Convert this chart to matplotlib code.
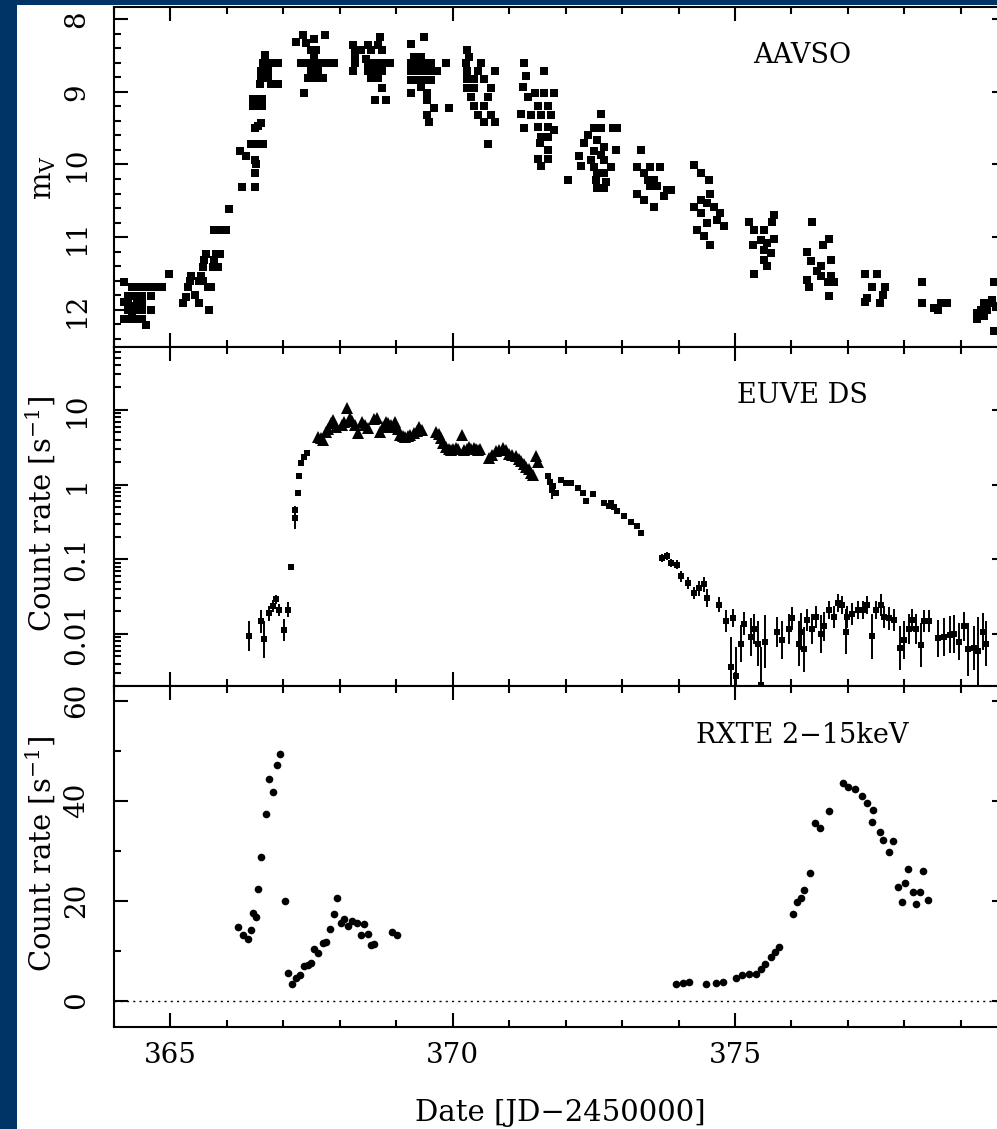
import numpy as np
import matplotlib
matplotlib.use("Agg")
import matplotlib.pyplot as plt
from matplotlib.patches import Rectangle
from matplotlib.ticker import MultipleLocator, LogLocator, FixedLocator, FixedFormatter, NullFormatter

plt.rcParams['font.family'] = ['DejaVu Serif', 'DejaVu Sans']
plt.rcParams['mathtext.fontset'] = 'custom'
plt.rcParams['mathtext.rm'] = 'DejaVu Serif'
plt.rcParams['mathtext.it'] = 'DejaVu Serif'

# ---------------- data ----------------
aavso_day = [
    364.18, 364.18, 364.18, 364.25, 364.25, 364.25, 364.25,
    364.32, 364.32, 364.32, 364.32, 364.32, 364.40, 364.40, 364.40, 364.40, 364.40,
    364.50, 364.50, 364.50, 364.50, 364.50, 364.56, 364.56, 364.65, 364.65, 364.65,
    364.75, 364.85, 364.98,
    365.22, 365.28, 365.31, 365.34, 365.37, 365.43, 365.51, 365.51, 365.54, 365.57,
    365.60, 365.63, 365.66, 365.69, 365.72, 365.75, 365.78, 365.81, 365.84, 365.87, 365.57,
    365.78, 365.85, 365.92, 365.98, 366.04, 366.27, 366.49,
    366.24, 366.33, 366.43, 366.50, 366.57, 366.64, 366.49, 366.52, 366.49,
    366.49, 366.61, 366.55, 366.46, 366.55, 366.62, 366.46, 366.55, 366.62,
    366.67, 366.64, 366.78, 366.90, 366.61, 366.72, 366.61, 366.72, 366.58, 366.78, 366.90,
    367.22, 367.34, 367.40, 367.55, 367.73, 367.49, 367.58, 367.31, 367.43, 367.55,
    367.67, 367.79, 367.90, 367.55, 367.61, 367.43, 367.58, 367.70, 367.37, 367.49,
    368.23, 368.26, 368.26, 368.26, 368.23, 368.50, 368.56, 368.71, 368.68, 368.74,
    368.50, 368.62, 368.74, 368.88, 368.50, 368.62, 368.74, 368.56, 368.68, 368.74,
    368.62, 368.82, 368.47, 368.38,
    369.26, 369.49, 369.31, 369.43, 369.26, 369.37, 369.49, 369.61, 369.88, 369.26,
    369.37, 369.49, 369.61, 369.73, 369.26, 369.37, 369.49, 369.61, 369.26, 369.43,
    369.55, 369.55, 369.67, 369.55, 369.58, 369.94,
    370.26, 370.29, 370.23, 370.50, 370.26, 370.44, 370.74, 370.26, 370.38, 370.56,
    370.26, 370.38, 370.68, 370.32, 370.62, 370.38, 370.56, 370.44, 370.68, 370.56,
    370.74, 370.62,
    371.27, 371.30, 371.24, 371.33, 371.62, 371.45, 371.62, 371.80, 371.51, 371.68,
    371.21, 371.39, 371.57, 371.74, 371.27, 371.51, 371.68, 371.80, 371.57, 371.68,
    371.54, 371.68, 371.51, 371.68, 371.57, 372.04,
    372.62, 372.51, 372.62, 372.39, 372.56, 372.33, 372.68, 372.51, 372.62, 372.24,
    372.45, 372.68, 372.27, 372.51, 372.56, 372.68, 372.54, 372.71, 372.56, 372.68,
    372.80, 372.83, 372.91, 372.90,
    373.33, 373.27, 373.39, 373.50, 373.68, 373.56, 373.62, 373.80, 373.86, 373.27,
    373.39, 373.56, 373.50, 373.74, 373.45,
    374.27, 374.39, 374.54, 374.56, 374.27, 374.39, 374.51, 374.62, 374.74, 374.68,
    374.80, 374.33, 374.51, 374.45, 374.56, 374.39,
    375.25, 375.34, 375.52, 375.69, 375.66, 375.31, 375.46, 375.57, 375.69, 375.52,
    375.63, 375.52, 375.57, 375.34,
    376.37, 376.67, 376.55, 376.28, 376.34, 376.70, 376.52, 376.28, 376.52, 376.70,
    376.76, 376.64, 376.31, 376.67, 376.46,
    377.31, 377.51, 377.43, 377.66, 377.31, 377.34, 377.63, 377.57,
    378.32, 378.32, 378.53, 378.65, 378.76, 378.59,
    379.29, 379.35, 379.41, 379.47, 379.53, 379.59, 379.62, 379.29, 379.41, 379.59, 379.56,
]
aavso_mag = [
    11.61, 11.89, 12.12, 11.81, 11.89, 12.00, 12.12,
    11.69, 11.81, 11.95, 12.05, 12.12, 11.69, 11.81, 11.89, 12.00, 12.12,
    11.69, 11.81, 11.89, 12.00, 12.12, 11.69, 12.21, 11.69, 11.81, 12.00,
    11.69, 11.69, 11.50,
    11.91, 11.82, 11.69, 11.60, 11.53, 11.80, 11.91, 11.60, 11.53, 11.41,
    11.32, 11.23, 11.69, 12.00, 11.69, 11.41, 11.32, 11.23, 11.41, 11.23, 11.60,
    10.90, 10.90, 10.90, 10.90, 10.61, 10.31, 10.31,
    9.82, 9.89, 9.72, 9.72, 9.72, 9.72, 9.94, 10.00, 10.12,
    9.50, 9.43, 9.47, 9.10, 9.10, 9.10, 9.20, 9.20, 9.20,
    8.49, 8.60, 8.60, 8.60, 8.72, 8.72, 8.81, 8.81, 8.90, 8.90, 8.90,
    8.31, 8.22, 8.33, 8.28, 8.22, 8.43, 8.43, 8.61, 8.61, 8.61,
    8.61, 8.61, 8.61, 8.52, 8.72, 8.81, 8.81, 8.81, 9.02, 8.72,
    8.36, 8.43, 8.52, 8.61, 8.72, 8.36, 8.43, 8.25, 8.36, 8.43,
    8.61, 8.61, 8.61, 8.61, 8.72, 8.72, 8.72, 8.81, 8.81, 8.95,
    9.11, 9.11, 8.55, 8.43,
    8.34, 8.25, 8.52, 8.52, 8.61, 8.61, 8.61, 8.61, 8.61, 8.72,
    8.72, 8.72, 8.72, 8.72, 8.84, 8.84, 8.84, 8.84, 9.02, 8.93,
    9.02, 9.11, 9.23, 9.32, 9.41, 9.22,
    8.43, 8.52, 8.61, 8.61, 8.72, 8.72, 8.72, 8.82, 8.82, 8.82,
    8.95, 8.95, 8.95, 9.07, 9.07, 9.20, 9.20, 9.32, 9.32, 9.41,
    9.41, 9.72,
    8.61, 8.79, 8.93, 9.07, 8.72, 9.02, 9.02, 9.02, 9.20, 9.20,
    9.30, 9.32, 9.32, 9.32, 9.50, 9.48, 9.48, 9.53, 9.62, 9.62,
    9.71, 9.80, 9.92, 9.92, 10.02, 10.21,
    9.30, 9.50, 9.50, 9.60, 9.66, 9.71, 9.76, 9.82, 9.87, 9.89,
    9.94, 9.94, 10.02, 10.03, 10.12, 10.12, 10.21, 10.24, 10.33, 10.33,
    10.03, 9.50, 9.50, 9.80,
    9.80, 10.03, 10.12, 10.03, 10.03, 10.21, 10.30, 10.35, 10.35, 10.40,
    10.49, 10.58, 10.30, 10.44, 10.21,
    10.01, 10.12, 10.21, 10.40, 10.58, 10.67, 10.53, 10.58, 10.67, 10.76,
    10.85, 10.90, 10.81, 10.99, 11.11, 10.49,
    10.79, 10.90, 10.90, 10.69, 10.79, 11.11, 11.04, 11.08, 11.02, 11.18,
    11.22, 11.31, 11.40, 11.51,
    10.79, 11.02, 11.11, 11.20, 11.33, 11.31, 11.40, 11.59, 11.54, 11.54,
    11.61, 11.61, 11.68, 11.81, 11.47,
    11.51, 11.51, 11.68, 11.69, 11.89, 11.84, 11.80, 11.91,
    11.62, 11.91, 11.98, 11.91, 11.91, 12.00,
    12.13, 12.00, 11.91, 12.00, 11.91, 11.62, 11.95, 12.04, 12.09, 12.29, 11.87,
]

# EUVE: peak triangles
euve_tri_day = [
    367.62, 367.66, 367.70, 367.75, 367.79, 367.84, 367.88, 367.94, 368.03, 368.07,
    368.12, 368.18, 368.22, 368.27, 368.33, 368.39, 368.45, 368.50, 368.60, 368.66,
    368.72, 368.77, 368.81, 368.85, 368.90, 368.94, 368.98, 369.03, 369.07, 369.12,
    369.16, 369.20, 369.25, 369.31, 369.36, 369.40, 369.46, 369.70, 369.75, 369.79,
    369.83, 369.88, 369.93, 369.97, 370.00, 370.06, 370.10, 370.17, 370.20, 370.25,
    370.29, 370.33, 370.38, 370.41, 370.44, 370.48, 370.65, 370.70, 370.77, 370.82,
    370.89, 370.95, 371.00, 371.05, 371.12, 371.17, 371.21, 371.26, 371.30, 371.35,
    371.39, 371.43, 371.48, 371.51,
]
euve_tri_rate = [
    4.4, 4.2, 4.0, 5.0, 5.6, 6.6, 7.3, 6.0, 6.3, 7.0,
    10.5, 7.7, 7.2, 6.3, 4.9, 6.9, 6.3, 5.8, 7.5, 7.8,
    5.1, 6.0, 6.9, 6.6, 6.3, 6.0, 6.9, 5.5, 4.6, 4.5,
    4.4, 4.5, 4.6, 4.9, 5.3, 5.9, 5.4, 5.1, 4.8, 4.2,
    3.6, 3.2, 3.0, 2.95, 3.0, 3.1, 3.0, 4.6, 2.95, 3.0,
    3.2, 3.0, 3.1, 3.0, 2.95, 3.0, 2.3, 2.5, 2.8, 2.9,
    3.1, 2.9, 2.6, 2.5, 2.4, 2.2, 2.1, 1.9, 1.74, 1.6,
    1.41, 1.35, 2.4, 2.04,
]

# EUVE: points with error bars (error in dex)
euve_day = [
    366.40, 366.60, 366.66, 366.75, 366.81, 366.87, 366.93, 367.02, 367.08, 367.14,
    367.20, 367.21, 367.26, 367.27, 367.31, 367.37, 367.42,
    371.68, 371.72, 371.75, 371.77, 371.83, 371.92, 372.00, 372.09, 372.21, 372.30,
    372.36, 372.48, 372.68, 372.77, 372.80, 372.86, 372.91, 373.03, 373.15, 373.27, 373.33,
    373.71, 373.80, 373.86, 373.98, 374.04, 374.16, 374.27, 374.36, 374.45, 374.51,
    374.72, 374.84, 374.96, 374.93, 375.02, 375.10, 375.16, 375.28, 375.34, 375.40,
    375.46, 375.54, 375.75, 375.84, 375.96, 376.01, 376.13, 376.16, 376.22, 376.28,
    376.37, 376.43, 376.52, 376.58, 376.67, 376.76, 376.82, 376.90, 376.96, 376.99,
    377.08, 377.17, 377.26, 377.34, 377.43, 377.49, 377.58, 377.64, 377.73, 377.82,
    377.93, 377.99, 378.08, 378.14, 378.20, 378.29, 378.35, 378.44, 378.59, 378.71,
    378.80, 378.88, 378.97, 379.06, 379.12, 379.24, 379.30, 379.39, 379.45,
]
euve_rate = [
    0.0094, 0.0147, 0.0085, 0.019, 0.0235, 0.029, 0.021, 0.0112, 0.021, 0.08,
    0.355, 0.46, 0.77, 1.29, 1.93, 2.37, 2.63,
    1.29, 1.1, 0.85, 0.95, 0.78, 1.17, 1.05, 1.05, 0.91, 0.78,
    0.60, 0.74, 0.56, 0.52, 0.575, 0.50, 0.44, 0.38, 0.32, 0.275, 0.224,
    0.104, 0.11, 0.089, 0.085, 0.059, 0.048, 0.035, 0.041, 0.046, 0.030,
    0.0245, 0.0148, 0.0162, 0.0036, 0.0027, 0.0074, 0.0138, 0.0091, 0.0117, 0.0074,
    0.0021, 0.0079, 0.0107, 0.0083, 0.0117, 0.0162, 0.0074, 0.0107, 0.0062, 0.0155,
    0.0117, 0.017, 0.010, 0.0126, 0.0209, 0.017, 0.0257, 0.0245, 0.0107, 0.017,
    0.0186, 0.0209, 0.0209, 0.0245, 0.0093, 0.0209, 0.0245, 0.017, 0.0162, 0.0155,
    0.0065, 0.0083, 0.0117, 0.0155, 0.0117, 0.0071, 0.0148, 0.0148, 0.0087, 0.0091,
    0.0098, 0.010, 0.0079, 0.0126, 0.0062, 0.0065, 0.0059, 0.0107, 0.0074,
]
euve_err_dex = [
    0.20, 0.15, 0.25, 0.10, 0.08, 0.06, 0.08, 0.15, 0.10, 0.03,
    0.15, 0.05, 0.04, 0.03, 0.02, 0.02, 0.02,
    0.03, 0.10, 0.12, 0.03, 0.03, 0.03, 0.03, 0.03, 0.03, 0.03,
    0.03, 0.03, 0.02, 0.02, 0.02, 0.02, 0.02, 0.02, 0.02, 0.02, 0.02,
    0.05, 0.05, 0.05, 0.06, 0.07, 0.08, 0.08, 0.10, 0.10, 0.12,
    0.10, 0.15, 0.12, 0.40, 0.40, 0.25, 0.15, 0.25, 0.20, 0.30,
    0.50, 0.35, 0.20, 0.25, 0.20, 0.15, 0.30, 0.25, 0.30, 0.15,
    0.20, 0.15, 0.25, 0.20, 0.12, 0.15, 0.12, 0.12, 0.30, 0.15,
    0.15, 0.12, 0.12, 0.12, 0.30, 0.12, 0.15, 0.15, 0.15, 0.15,
    0.30, 0.25, 0.20, 0.15, 0.20, 0.30, 0.15, 0.15, 0.25, 0.25,
    0.25, 0.25, 0.25, 0.20, 0.35, 0.30, 0.45, 0.25, 0.30,
]

rxte_day = [
    366.20, 366.28, 366.37, 366.43, 366.46, 366.52, 366.55, 366.61, 366.69, 366.74,
    366.82, 366.89, 366.94, 367.03, 367.08, 367.15, 367.23, 367.30, 367.36, 367.43,
    367.49, 367.55, 367.61, 367.70, 367.76, 367.82, 367.89, 367.95, 368.02, 368.08,
    368.15, 368.22, 368.30, 368.37, 368.43, 368.50, 368.55, 368.61, 368.93, 369.02,
    373.95, 374.07, 374.19, 374.48, 374.66, 374.78, 375.01, 375.13, 375.25, 375.37,
    375.46, 375.54, 375.63, 375.70, 375.78, 376.03, 376.10, 376.16, 376.23, 376.33,
    376.42, 376.51, 376.66, 376.92, 377.01, 377.13, 377.25, 377.33, 377.45, 377.42,
    377.57, 377.63, 377.80, 377.73, 378.06, 378.33, 377.89, 378.01, 378.15, 378.28,
    377.95, 378.21, 378.41,
]
rxte_rate = [
    14.8, 13.1, 12.4, 14.1, 17.5, 16.8, 22.3, 28.8, 37.3, 44.3,
    41.8, 47.1, 49.3, 20.0, 5.5, 3.3, 4.5, 5.1, 7.0, 7.1,
    7.5, 10.3, 9.6, 11.5, 11.8, 14.3, 17.3, 20.5, 15.6, 16.3,
    14.9, 16.0, 15.5, 13.1, 15.3, 13.4, 11.1, 11.3, 13.7, 13.1,
    3.3, 3.5, 3.8, 3.3, 3.5, 3.7, 4.6, 5.1, 5.4, 5.4,
    6.4, 7.4, 8.8, 9.8, 10.8, 17.3, 19.8, 20.5, 22.1, 25.5,
    35.5, 34.5, 38.0, 43.5, 42.8, 42.3, 40.9, 39.5, 38.1, 35.8,
    33.8, 32.1, 31.9, 29.8, 26.3, 25.9, 22.8, 23.6, 21.8, 21.8,
    19.8, 19.3, 20.1,
]

panel_labels = ["AAVSO", "EUVE DS", "RXTE 2\u221215keV"]
x_ticks = [365, 370, 375]
mag_ticks = [8, 9, 10, 11, 12]
euve_ticks = [0.01, 0.1, 1, 10]
euve_ticklabels = ["0.01", "0.1", "1", "10"]
rxte_ticks = [0, 20, 40, 60]

# ---------------- figure ----------------
W, H = 997, 1129
fig = plt.figure(figsize=(W / 100, H / 100), dpi=100)
fig.patch.set_facecolor('#003366')
fig.patches.append(Rectangle((17 / W, 0), (W - 17) / W, (H - 5) / H,
                             transform=fig.transFigure, facecolor='white',
                             edgecolor='none', zorder=-10))

left = 114 / W
width = (1006 - 114) / W
def frac(top_px, bot_px):
    return [left, 1 - bot_px / H, width, (bot_px - top_px) / H]

ax1 = fig.add_axes(frac(7, 347))
ax2 = fig.add_axes(frac(347, 686))
ax3 = fig.add_axes(frac(686, 1027))
axes = [ax1, ax2, ax3]

FS = 20
FS_PANEL = 19.5
FS_LAB = 21
for ax in axes:
    ax.set_xlim(364.0, 379.8)
    ax.xaxis.set_major_locator(FixedLocator(x_ticks))
    ax.xaxis.set_minor_locator(MultipleLocator(1))
    for s in ax.spines.values():
        s.set_linewidth(1.5)
    ax.tick_params(which='both', direction='in', top=True, right=True,
                   width=1.5, labelsize=FS, color='black')
    ax.tick_params(which='major', length=10)
    ax.tick_params(which='minor', length=5)
    ax.tick_params(axis='y', labelrotation=90, pad=17)
    ax.tick_params(axis='x', pad=11)

ax1.tick_params(labelbottom=False)
ax2.tick_params(labelbottom=False)

# Top: AAVSO
ax1.plot(aavso_day, aavso_mag, 's', color='black', ms=5.2, mew=0)
ax1.set_ylim(12.51, 7.835)
ax1.yaxis.set_major_locator(FixedLocator(mag_ticks))
ax1.yaxis.set_minor_locator(MultipleLocator(0.2))

# Middle: EUVE
ax2.set_yscale('log')
ed = np.array(euve_err_dex)
er = np.array(euve_rate)
lo = er - er * 10 ** (-ed)
hi = er * 10 ** ed - er
ax2.errorbar(euve_day, euve_rate, yerr=[lo, hi], fmt='s', color='black',
             ms=5, mew=0, elinewidth=1.4, capsize=0)
ax2.plot(euve_tri_day, euve_tri_rate, '^', color='black', ms=8, mew=0)
ax2.set_ylim(0.00201, 69.7)
ax2.yaxis.set_major_locator(FixedLocator(euve_ticks))
ax2.yaxis.set_major_formatter(FixedFormatter(euve_ticklabels))
ax2.yaxis.set_minor_locator(LogLocator(base=10, subs=np.arange(2, 10), numticks=20))
ax2.yaxis.set_minor_formatter(NullFormatter())

# Bottom: RXTE
ax3.plot(rxte_day, rxte_rate, 'o', color='black', ms=5.5, mew=0)
ax3.axhline(0, color='black', lw=1.0, ls=(0, (1.5, 3)))
ax3.set_ylim(-5.3, 62.9)
ax3.yaxis.set_major_locator(FixedLocator(rxte_ticks))
ax3.yaxis.set_minor_locator(MultipleLocator(10))

for ax in axes:
    for lab in ax.get_yticklabels():
        lab.set_verticalalignment('center')

for ax, lab in zip(axes, panel_labels):
    ax.text(0.772, 0.856, lab, transform=ax.transAxes, ha='center', va='center',
            fontsize=FS_PANEL)

# axis labels
fig.text(44 / W, 1 - 177 / H, r'm$_{\mathregular{V}}$', rotation=90,
         ha='center', va='center', fontsize=FS_LAB)
fig.text(41 / W, 1 - 514 / H, r'Count rate [s$^{\mathregular{-1}}$]', rotation=90,
         ha='center', va='center', fontsize=FS_LAB)
fig.text(41 / W, 1 - 854 / H, r'Count rate [s$^{\mathregular{-1}}$]', rotation=90,
         ha='center', va='center', fontsize=FS_LAB)
fig.text(560 / W, 1 - 1113 / H, 'Date [JD\u22122450000]', ha='center', va='center',
         fontsize=FS_LAB)

fig.savefig('out.png', dpi=100, facecolor=fig.get_facecolor())
